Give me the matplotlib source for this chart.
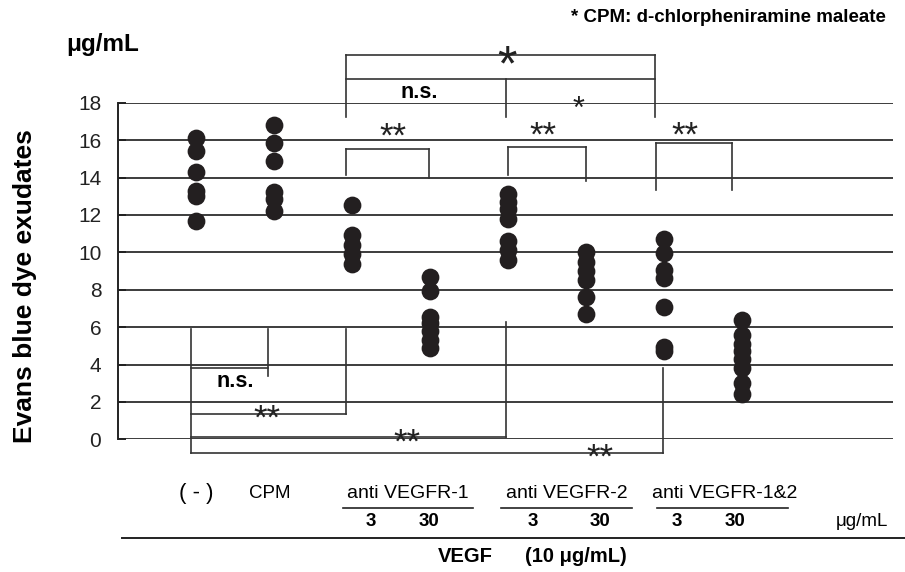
import matplotlib
matplotlib.use("Agg")
import matplotlib.pyplot as plt

plt.rcParams['font.family'] = ['Liberation Sans', 'DejaVu Sans']

# ---- data ----
group_labels = ["( - )", "CPM", "anti VEGFR-1", "anti VEGFR-2", "anti VEGFR-1&2"]
dose_labels = ["3", "30", "3", "30", "3", "30"]
g1 = [16.1, 15.4, 14.3, 13.3, 13.0, 11.7]
g2 = [16.8, 15.85, 14.9, 13.2, 12.85, 12.2]
g3 = [12.55, 10.9, 10.4, 9.9, 9.4]
g4 = [8.7, 7.95, 6.55, 6.2, 5.8, 5.3, 4.9]
g5 = [13.1, 12.7, 12.3, 11.8, 10.6, 10.1, 9.6]
g6 = [10.0, 9.5, 9.0, 8.5, 7.6, 6.7]
g7 = [10.7, 9.95, 9.05, 8.6, 7.05, 4.95, 4.7]
g8 = [6.4, 5.6, 5.1, 4.7, 4.3, 3.8, 3.0, 2.4]
groups = [g1, g2, g3, g4, g5, g6, g7, g8]
yticks = [0, 2, 4, 6, 8, 10, 12, 14, 16, 18]

W, H = 905, 572
fig = plt.figure(figsize=(W / 100, H / 100), dpi=100)
ax_l, ax_r, ax_t, ax_b = 118, 893, 102.7, 439.3
ax = fig.add_axes([ax_l / W, 1 - ax_b / H, (ax_r - ax_l) / W, (ax_b - ax_t) / H])

dot = '#231f20'
for i, vals in enumerate(groups):
    ax.plot([i + 1] * len(vals), vals, 'o', color=dot, markersize=12.8,
            markeredgewidth=0, zorder=3, clip_on=False)

ax.set_xlim(0, 9.94)
ax.set_ylim(0, 18)
ax.set_yticks(yticks)
ax.set_xticks([])
for y in yticks:
    ax.axhline(y, color='#3c3c3c', lw=1.4, zorder=1)
for s in ['top', 'right', 'bottom']:
    ax.spines[s].set_visible(False)
ax.spines['left'].set_color('#222222')
ax.spines['left'].set_linewidth(1.4)
ax.tick_params(axis='y', direction='in', length=6, width=1.4, labelsize=15,
               pad=12, colors='#222222')
ax.set_ylabel("Evans blue dye exudates", fontsize=19, fontweight='bold')
ax.yaxis.set_label_coords(-0.105, 0.455)

lc = '#333333'
lw = 1.2


def seg(x0, y0, x1, y1):
    ax.plot([x0, x1], [y0, y1], color=lc, lw=lw, clip_on=False, zorder=2)


# top comparison brackets
xa, xb, xm = 2.92, 6.89, 4.98
seg(xa, 17.25, xa, 20.55)
seg(xb, 17.25, xb, 20.55)
seg(xa, 20.55, xb, 20.55)
seg(xa, 19.27, xb, 19.27)
seg(xm, 17.25, xm, 19.27)
# pairwise 3 vs 30
seg(2.92, 15.51, 3.99, 15.51); seg(2.92, 14.13, 2.92, 15.51); seg(3.99, 14.0, 3.99, 15.51)
seg(5.0, 15.65, 6.0, 15.65); seg(5.0, 14.13, 5.0, 15.65); seg(6.0, 13.83, 6.0, 15.65)
seg(6.9, 15.83, 7.88, 15.83); seg(6.9, 13.33, 6.9, 15.83); seg(7.88, 13.33, 7.88, 15.83)

# bottom comparison brackets from (-)
x0 = 0.936
seg(x0, 5.88, x0, -0.75)
seg(x0, 3.8, 1.928, 3.8); seg(1.928, 5.88, 1.928, 3.39)
seg(x0, 1.34, 2.92, 1.34); seg(2.92, 5.88, 2.92, 1.34)
seg(x0, 0.11, 4.98, 0.11); seg(4.98, 6.29, 4.98, 0.11)
seg(x0, -0.75, 6.99, -0.75); seg(6.99, 3.8, 6.99, -0.75)


def star(x, y, s, size):
    # place asterisks so their ink is centred on (x, y)
    ax.text(x, y, s, fontsize=size, ha='center', va='baseline', color='#222222',
            transform=ax.transData + matplotlib.transforms.ScaledTranslation(
                0, -size * 0.47 / 72, fig.dpi_scale_trans), clip_on=False, zorder=4)


star(4.99, 20.45, "*", 36)
star(5.9, 17.95, "*", 22)
star(3.53, 16.5, "**", 25)
star(5.45, 16.6, "**", 25)
star(7.27, 16.6, "**", 25)
star(1.91, 1.42, "**", 25)
star(3.70, 0.14, "**", 25)
star(6.18, -0.66, "**", 25)
ax.text(3.87, 18.55, "n.s.", fontsize=15.5, fontweight='bold', ha='center', va='center', clip_on=False)
ax.text(1.5, 3.1, "n.s.", fontsize=15.5, fontweight='bold', ha='center', va='center', clip_on=False)


def fx(px):
    return px / W


def fy(py):
    return 1 - py / H


fig.text(fx(886), fy(18), "* CPM: d-chlorpheniramine maleate", fontsize=13.5,
         fontweight='bold', ha='right', va='center')
fig.text(fx(66), fy(45), "\u03bcg/mL", fontsize=17.5, fontweight='bold', ha='left', va='center')

# category labels under the axis
label_px = [196, 270, 407.6, 566.5, 725]
label_sz = [16, 13.5, 14, 14, 14]
for lab, px, sz in zip(group_labels, label_px, label_sz):
    fig.text(fx(px), fy(493), lab, fontsize=sz, ha='center', va='center')
for a, b in [(342.6, 472.6), (500.5, 631.5), (656.5, 788)]:
    fig.add_artist(plt.Line2D([fx(a), fx(b)], [fy(508), fy(508)], color='#222222', lw=1.2))
dose_px = [370.5, 429, 532.8, 600, 677, 735]
for lab, px in zip(dose_labels, dose_px):
    fig.text(fx(px), fy(522), lab, fontsize=13.5, fontweight='bold', ha='center', va='center')
fig.text(fx(862), fy(522), "\u03bcg/mL", fontsize=13.5, ha='center', va='center')
fig.add_artist(plt.Line2D([fx(122), fx(905)], [fy(537.7), fy(537.7)], color='#222222', lw=1.4))
fig.text(fx(465), fy(557), "VEGF", fontsize=14.5, fontweight='bold', ha='center', va='center')
fig.text(fx(576), fy(557), "(10 \u03bcg/mL)", fontsize=14.5, fontweight='bold', ha='center', va='center')

fig.savefig("out.png", dpi=100)
